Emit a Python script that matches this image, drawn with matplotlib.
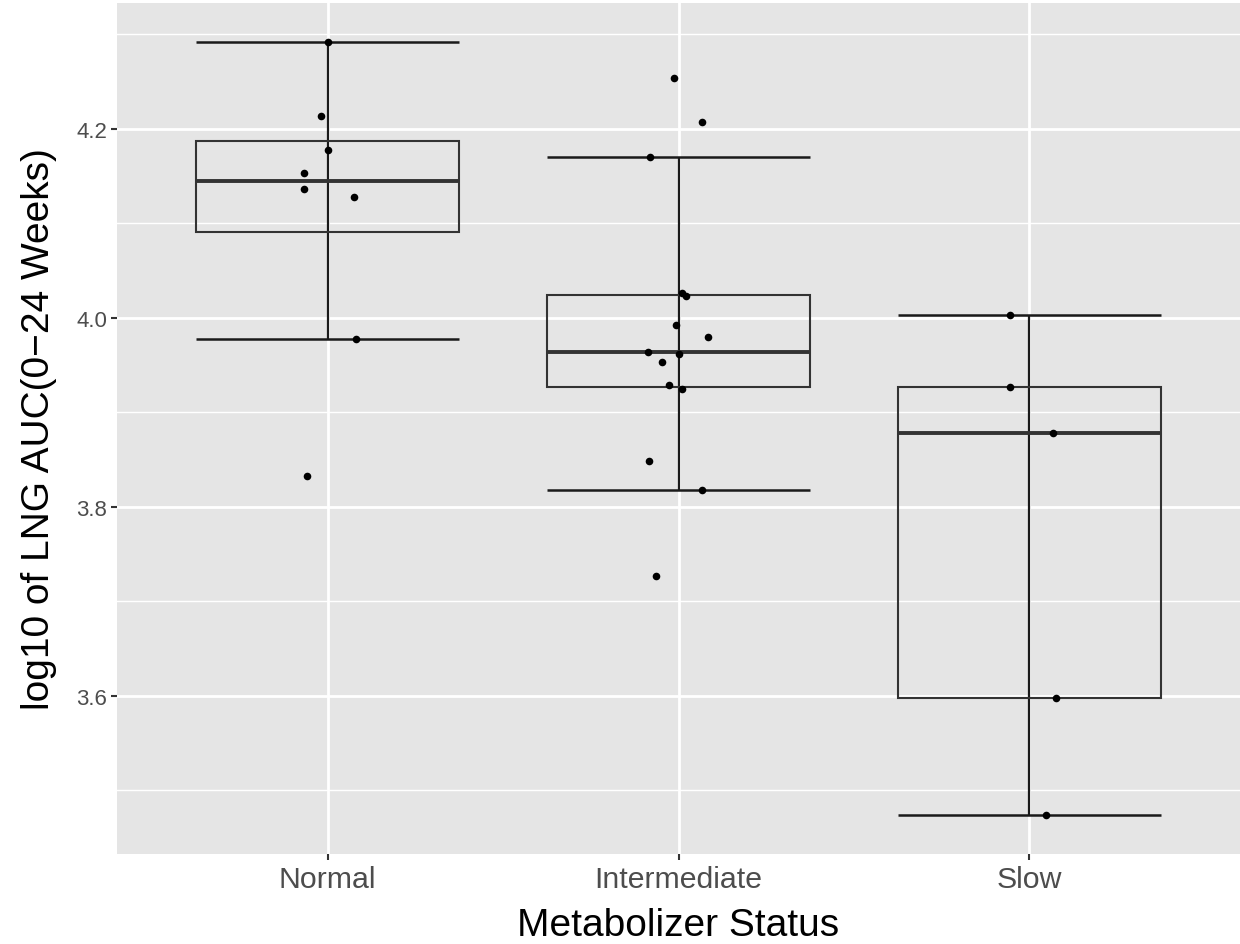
import numpy as np
import matplotlib.pyplot as plt
from matplotlib import cbook

plt.rcParams['font.family'] = ['Liberation Sans', 'DejaVu Sans']

groups = ['Normal', 'Intermediate', 'Slow']

normal = [4.292, 4.214, 4.178, 4.153, 4.137, 4.128, 3.978, 3.833]
normal_jit = [0.0, -0.020, 0.0, -0.068, -0.066, 0.074, 0.080, -0.060]

intermediate = [4.254, 4.207, 4.170, 4.026, 4.023, 3.993, 3.980, 3.964,
                3.962, 3.953, 3.929, 3.925, 3.849, 3.818, 3.727]
intermediate_jit = [-0.014, 0.068, -0.080, 0.011, 0.020, -0.006, 0.083, -0.088,
                    0.0, -0.048, -0.028, 0.011, -0.083, 0.066, -0.063]

slow = [4.003, 3.927, 3.878, 3.598, 3.474]
slow_jit = [-0.054, -0.054, 0.068, 0.077, 0.048]

values = [normal, intermediate, slow]
jitters = [normal_jit, intermediate_jit, slow_jit]

fig = plt.figure(figsize=(12.4, 9.45), dpi=100)
ax = fig.add_axes([117/1240, 1 - 855/945, 1 - 117/1240, (855 - 4)/945])
ax.set_facecolor('#E5E5E5')
for s in ax.spines.values():
    s.set_visible(False)

pos = np.arange(1, len(groups) + 1)
width = 0.75

stats = cbook.boxplot_stats(values, whis=1.5)

# errorbar-style whiskers spanning the full box width
for p, st in zip(pos, stats):
    ax.vlines(p, st['whislo'], st['whishi'], color='#1a1a1a', lw=1.6, zorder=3)
    ax.hlines([st['whislo'], st['whishi']], p - width/2, p + width/2,
              color='#1a1a1a', lw=1.8, zorder=3)

ax.bxp(stats, positions=pos, widths=width, showcaps=False, showfliers=False,
       patch_artist=True,
       boxprops=dict(facecolor='none', edgecolor='#333333', linewidth=1.5),
       medianprops=dict(color='#333333', linewidth=2.8),
       whiskerprops=dict(visible=False), zorder=4)

for p, v, j in zip(pos, values, jitters):
    ax.scatter(p + np.array(j), v, s=30, color='black', zorder=5, linewidths=0)

ax.set_xlim(0.4, 3.6)
ax.set_ylim(3.4328, 4.3333)
ax.set_xticks(pos)
ax.set_xticklabels(groups)
ax.set_yticks([3.6, 3.8, 4.0, 4.2])
ax.set_yticks([3.5, 3.7, 3.9, 4.1, 4.3], minor=True)
ax.set_yticklabels(['3.6', '3.8', '4.0', '4.2'])

ax.grid(True, which='major', color='white', lw=2.0, zorder=0)
ax.grid(True, which='minor', axis='y', color='white', lw=1.0, zorder=0)
ax.set_axisbelow(True)

ax.tick_params(axis='both', which='major', length=4, width=1.5, color='#333333')
ax.tick_params(axis='y', which='minor', length=0)
ax.tick_params(axis='x', labelsize=21.8, labelcolor='#4D4D4D', pad=4)
ax.tick_params(axis='y', labelsize=16, labelcolor='#4D4D4D', pad=3)

ax.set_xlabel('Metabolizer Status', fontsize=28, labelpad=10)
ax.set_ylabel('log10 of LNG AUC(0\u221224 Weeks)', fontsize=28, labelpad=14)

fig.savefig('out.png', dpi=100)
